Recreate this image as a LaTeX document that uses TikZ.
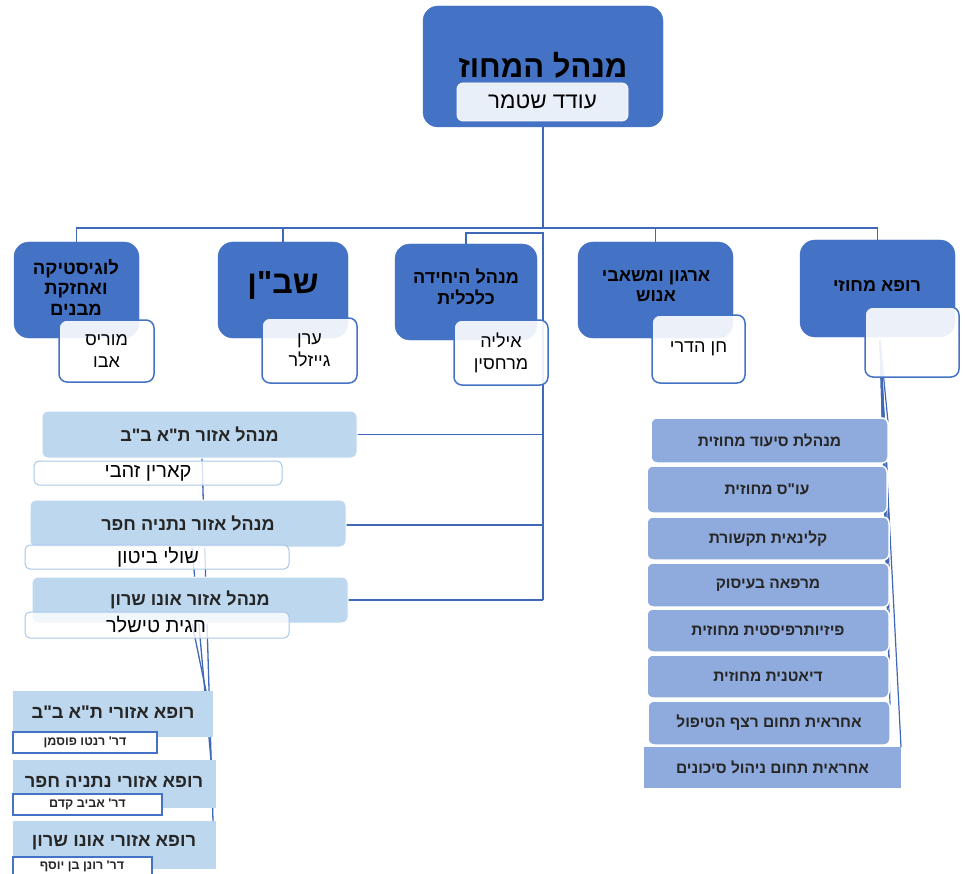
\documentclass[tikz,border=0pt]{standalone}
\usepackage{fontspec}
\setmainfont{Liberation Sans}[Script=Hebrew,Ligatures=TeXOff]
\TeXXeTstate=1
\usetikzlibrary{calc}
\definecolor{dblue}{HTML}{4472C4}
\definecolor{topname}{HTML}{E9EFF8}
\definecolor{lstack}{HTML}{BDD7EE}
\definecolor{rstack}{HTML}{8FAADC}
\definecolor{lineblue}{HTML}{4068B8}
\definecolor{lborder}{HTML}{A9C8E8}
\definecolor{textgray}{HTML}{262626}
\pgfdeclarelayer{back}
\pgfdeclarelayer{bg}
\pgfsetlayers{back,bg,main}
\newcommand{\heb}[1]{\beginR#1\endR}
\newcommand{\bx}[7]{%
  \pgfmathsetmacro{\bxw}{#5-(#3)}%
  \pgfmathsetmacro{\bxh}{#6-(#4)}%
  \node[#2,minimum width=\bxw pt,minimum height=\bxh pt] (#1) at ({(#3+#5)/2},{(#4+#6)/2}) {#7};%
}
\begin{document}
\begin{tikzpicture}[x=1pt,y=-1pt,
  bigbox/.style={fill=dblue, draw=dblue, rounded corners=15pt, inner sep=0pt, outer sep=0pt, align=center},
  namebox/.style={fill=white, fill opacity=0.9, text opacity=1, draw=dblue, line width=1.5pt, rounded corners=8pt, inner sep=0pt, outer sep=0pt, align=center, font=\fontsize{18}{22}\selectfont},
  rbox/.style={fill=rstack, draw=white, line width=1.5pt, rounded corners=6pt, inner sep=0pt, outer sep=0pt, font=\bfseries\fontsize{15.5}{18}\selectfont, text=textgray},
  lbox/.style={fill=lstack, draw=white, line width=1pt, rounded corners=6pt, inner sep=0pt, outer sep=0pt, font=\bfseries\fontsize{18}{21}\selectfont, text=textgray},
  lname/.style={fill=white, fill opacity=0.8, draw=lborder, line width=1pt, rounded corners=5pt, inner sep=0pt, outer sep=0pt},
  lnametext/.style={font=\fontsize{20}{23}\selectfont, inner sep=0pt},
  dbox/.style={fill=lstack, draw=none, inner sep=0pt, outer sep=0pt},
  dtext/.style={font=\bfseries\fontsize{18.3}{21}\selectfont, text=textgray, inner sep=0pt},
  dname/.style={fill=white, draw=dblue, line width=1.2pt, inner sep=0pt, outer sep=0pt, font=\bfseries\fontsize{12.5}{14}\selectfont, text=textgray},
  ttl/.style={font=\bfseries\fontsize{18}{20.5}\selectfont, align=center, inner sep=0pt},
  conn/.style={draw=lineblue, line width=1.6pt}
]
\clip (0,0) rectangle (965,874);
\begin{pgfonlayer}{back}
\fill[white] (0,0) rectangle (965,874);
\end{pgfonlayer}

% top box
\bx{top}{bigbox}{423}{6}{663}{127}{}
\node[font=\bfseries\fontsize{31}{36}\selectfont, inner sep=0pt] (toptitle) at (543,65) {\heb{מנהל המחוז}};
\bx{topn}{fill=topname, draw=white, line width=0.8pt, rounded corners=6pt, inner sep=0pt, font=\fontsize{22.5}{26}\selectfont}{457}{83}{628}{121}{\heb{עודד שטמר}}

% second row
\bx{log}{bigbox}{14}{242}{139}{338}{}
\node[ttl, font=\bfseries\fontsize{18.5}{20.5}\selectfont] (logt) at (76,287) {\heb{לוגיסטיקה}\\\heb{ואחזקת}\\\heb{מבנים}};
\bx{shb}{bigbox}{218}{242}{348}{338}{}
\node[font=\bfseries\fontsize{32}{38}\selectfont, inner sep=0pt] (shbt) at (283,285) {\heb{שב"ן}};
\bx{eco}{bigbox}{395}{244}{537}{340}{}
\node[ttl] (ecot) at (466,287) {\heb{מנהל היחידה}\\\heb{כלכלית}};
\bx{org}{bigbox}{578}{242}{733}{338}{}
\node[ttl] (orgt) at (656,286) {\heb{ארגון ומשאבי}\\\heb{אנוש}};
\bx{doc}{bigbox}{800}{240}{955}{337}{}
\node[ttl] (doct) at (877,286) {\heb{רופא מחוזי}};

\bx{n1}{namebox}{59}{320}{154}{382}{\heb{מוריס}\\\heb{אבו}}
\bx{n2}{namebox}{262}{318}{357}{383}{\heb{ערן}\\\heb{גייזלר}}
\bx{n3}{namebox}{454}{320}{548}{385}{\heb{איליה}\\\heb{מרחסין}}
\bx{n4}{namebox}{652}{315}{745}{383}{\heb{חן הדרי}}
\bx{n5}{namebox}{865}{307}{959}{377}{}

% right stack
\bx{r1}{rbox}{651}{418}{888}{463}{\heb{מנהלת סיעוד מחוזית}}
\bx{r2}{rbox}{647}{466}{887}{513}{\heb{עו"ס מחוזית}}
\bx{r3}{rbox}{647}{517}{889}{560}{\heb{קלינאית תקשורת}}
\bx{r4}{rbox}{647}{563}{889}{607}{\heb{מרפאה בעיסוק}}
\bx{r5}{rbox}{647}{609}{889}{652}{\heb{פיזיותרפיסטית מחוזית}}
\bx{r6}{rbox}{647}{655}{889}{698}{\heb{דיאטנית מחוזית}}
\bx{r7}{rbox}{648}{701}{890}{745}{\heb{אחראית תחום רצף הטיפול}}
\bx{r8}{rbox, rounded corners=0pt, draw=none}{644}{747}{901}{788}{\heb{אחראית תחום ניהול סיכונים}}

% left stack (area managers)
\bx{A}{lbox}{42}{411}{357}{458}{\heb{מנהל אזור ת"א ב"ב}}
\bx{An}{lname}{34}{461}{282}{485}{}
\node[lnametext] (Ant) at (148,473) {\heb{קארין זהבי}};
\bx{B}{lbox}{30}{500}{346}{547}{\heb{מנהל אזור נתניה חפר}}
\bx{Bn}{lname}{25}{545}{289}{569}{}
\node[lnametext] (Bnt) at (158,557) {\heb{שולי ביטון}};
\bx{C}{lbox}{32}{577}{348}{623}{\heb{מנהל אזור אונו שרון}}
\bx{Cn}{lname}{25}{612}{289}{638}{}
\node[lnametext] (Cnt) at (156,625) {\heb{חגית טישלר}};

% regional doctors
\bx{D1}{dbox}{13}{691}{213}{737}{}
\node[dtext] (D1t) at (113,712) {\heb{רופא אזורי ת"א ב"ב}};
\bx{D1n}{dname}{13}{732}{157}{753}{\heb{דר' רנטו פוסמן}}
\bx{D2}{dbox}{13}{760}{216}{808}{}
\node[dtext] (D2t) at (114,782) {\heb{רופא אזורי נתניה חפר}};
\bx{D2n}{dname}{13}{794}{162}{815}{\heb{דר' אביב קדם}}
\bx{D3}{dbox}{13}{821}{216}{869}{}
\node[dtext] (D3t) at (114,843) {\heb{רופא אזורי אונו שרון}};
\bx{D3n}{dname}{13}{857}{152}{880}{}
\node[font=\bfseries\fontsize{12.5}{14}\selectfont, text=textgray, inner sep=0pt] (D3nt) at (82,866) {\heb{דר' רונן בן יוסף}};

% connectors
\begin{pgfonlayer}{bg}
  \coordinate (bus) at (543,228);
  \coordinate (k) at (543,600);
  \draw[conn] (top.south) -- (bus);
  \draw[conn] (log.north) -- ++(0,-14) -| (doc.north);
  \draw[conn] (shb.north) -- (shb.north |- bus);
  \draw[conn] (org.north) -- (org.north |- bus);
  \draw[conn] (eco.north) -- ++(0,-11) -| (k);
  \draw[conn] (A.east) -- (A.east -| k);
  \draw[conn] ([yshift=-1.5pt]B.east) -- ([yshift=-1.5pt]B.east -| k);
  \draw[conn] (C.east) -- (k);
  % regional lines
  \draw[conn, line width=1.3pt] ([xshift=2.5pt]A.south) -- ([xshift=-3pt]D3.north east);
  \draw[conn, line width=1.3pt] ([xshift=4pt]B.south) -- ([xshift=-5pt]D2.north east);
  \draw[conn, line width=1.3pt] ([xshift=2pt]C.south) -- ([xshift=-7pt]D1.north east);
  % district doctor to professionals
  \coordinate (o) at (880,340);
  \foreach \r in {r1,r2,r3,r4,r5,r6,r7}{
    \draw[conn, line width=1.2pt] (o) -- ($(\r.north east)+(0,4)$);
  }
  \draw[conn, line width=1.2pt] (o) -- (r8.north east);
\end{pgfonlayer}
\end{tikzpicture}
\end{document}
